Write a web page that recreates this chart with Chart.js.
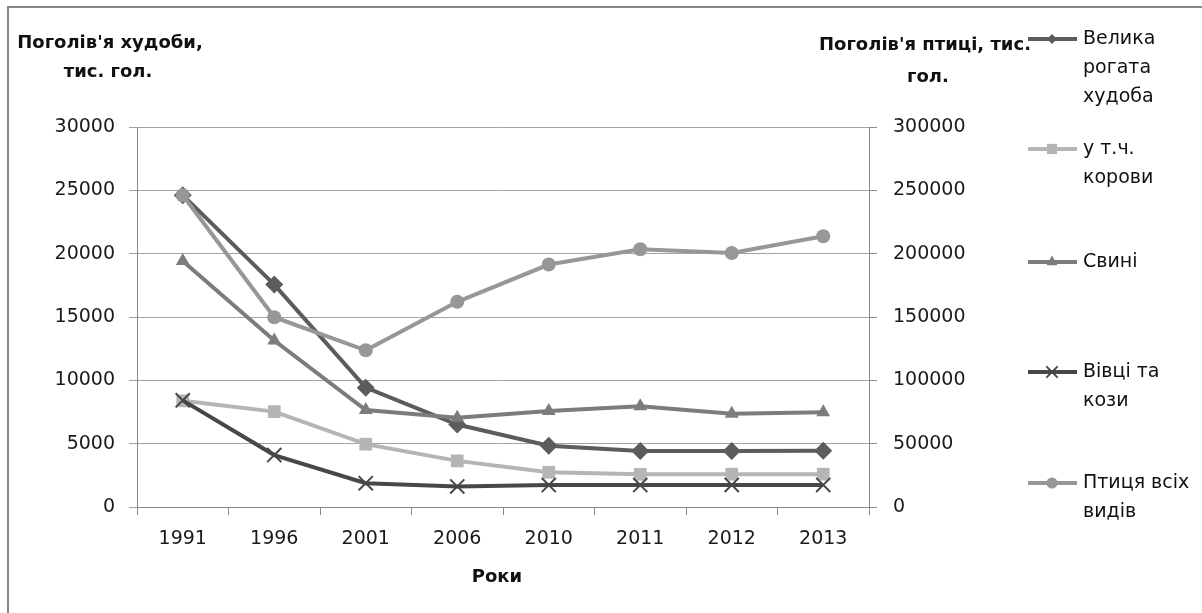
<!DOCTYPE html>
<html>
<head>
<meta charset="utf-8">
<script src="https://cdn.jsdelivr.net/npm/chart.js@4.4.0/dist/chart.umd.min.js"></script>
<style>
html,body{margin:0;padding:0;background:#fff;}
#wrap{width:1202px;height:613px;position:relative;}
</style>
</head>
<body>
<div id="wrap"><canvas id="c" width="1202" height="613"></canvas></div>
<script>
const years = ['1991','1996','2001','2006','2010','2011','2012','2013'];
const cattle = [24620, 17560, 9420, 6510, 4830, 4430, 4430, 4440];
const cows = [8380, 7530, 4960, 3640, 2740, 2580, 2590, 2590];
const pigs = [19430, 13140, 7650, 7050, 7580, 7960, 7370, 7480];
const sheep = [8420, 4100, 1880, 1620, 1730, 1730, 1740, 1740];
const poultry = [246100, 149800, 123700, 162000, 191400, 203500, 200500, 213800];
const leftTicks = [0, 5000, 10000, 15000, 20000, 25000, 30000];
const rightTicks = [0, 50000, 100000, 150000, 200000, 250000, 300000];
const seriesNames = [['Велика','рогата','худоба'], ['у т.ч.','корови'], ['Свині'], ['Вівці та','кози'], ['Птиця всіх','видів']];

const FONT = "'DejaVu Sans', sans-serif";

function marker(ctx, style, x, y, r, color) {
  ctx.save();
  ctx.fillStyle = color; ctx.strokeStyle = color; ctx.lineWidth = 2;
  ctx.beginPath();
  const s = Math.SQRT1_2 * r;
  if (style === 'rectRot') {
    ctx.moveTo(x - s, y); ctx.lineTo(x, y + s); ctx.lineTo(x + s, y); ctx.lineTo(x, y - s); ctx.closePath(); ctx.fill();
  } else if (style === 'rect') {
    ctx.rect(x - s, y - s, 2 * s, 2 * s); ctx.fill();
  } else if (style === 'triangle') {
    const w = r * Math.sqrt(3) / 2;
    ctx.moveTo(x, y - r); ctx.lineTo(x + w, y + r / 2); ctx.lineTo(x - w, y + r / 2); ctx.closePath(); ctx.fill();
  } else if (style === 'crossRot') {
    ctx.moveTo(x - s, y - s); ctx.lineTo(x + s, y + s); ctx.moveTo(x + s, y - s); ctx.lineTo(x - s, y + s); ctx.stroke();
  } else {
    ctx.arc(x, y, r, 0, Math.PI * 2); ctx.fill();
  }
  ctx.restore();
}

const deco = {
  id: 'deco',
  beforeDraw(chart) {
    const ctx = chart.ctx;
    ctx.save();
    ctx.fillStyle = '#fff';
    ctx.fillRect(0, 0, chart.width, chart.height);
    ctx.strokeStyle = '#878787';
    ctx.lineWidth = 2;
    ctx.strokeRect(8, 7, 1210, 620);
    ctx.restore();
  },
  afterDraw(chart) {
    const ctx = chart.ctx;
    ctx.save();
    ctx.fillStyle = '#111';
    ctx.textBaseline = 'middle';
    ctx.textAlign = 'center';
    ctx.font = "bold 18px " + FONT;
    ctx.fillText("Поголів'я худоби,", 110, 43);
    ctx.fillText("тис. гол.", 108, 72);
    ctx.fillText("Поголів'я птиці, тис.", 925, 45);
    ctx.fillText("гол.", 928, 77);
    ctx.fillText("Роки", 497, 577);
    // legend
    const tops = [39, 149, 262, 372, 483];
    ctx.font = "19px " + FONT;
    ctx.textAlign = 'left';
    chart.data.datasets.forEach((ds, i) => {
      const y = tops[i];
      ctx.strokeStyle = ds.borderColor;
      ctx.lineWidth = 4;
      ctx.beginPath(); ctx.moveTo(1028, y); ctx.lineTo(1077, y); ctx.stroke();
      marker(ctx, ds.pointStyle, 1052, y, ds.pointRadius * 0.8, ds.borderColor);
      ctx.fillStyle = '#111';
      seriesNames[i].forEach((t, j) => ctx.fillText(t, 1083, y + j * 29));
    });
    ctx.restore();
  }
};

const common = { borderWidth: 4, pointBorderWidth: 0, fill: false, tension: 0 };

new Chart(document.getElementById('c'), {
  type: 'line',
  data: {
    labels: years,
    datasets: [
      { ...common, label: seriesNames[0].join(' '), data: cattle, yAxisID: 'y', borderColor: '#5c5c5c', backgroundColor: '#5c5c5c', pointStyle: 'rectRot', pointRadius: 9, order: 5 },
      { ...common, label: seriesNames[1].join(' '), data: cows, yAxisID: 'y', borderColor: '#b5b5b5', backgroundColor: '#b5b5b5', pointStyle: 'rect', pointRadius: 9, order: 4 },
      { ...common, label: seriesNames[2].join(' '), data: pigs, yAxisID: 'y', borderColor: '#7c7c7c', backgroundColor: '#7c7c7c', pointStyle: 'triangle', pointRadius: 8, order: 3 },
      { ...common, label: seriesNames[3].join(' '), data: sheep, yAxisID: 'y', borderColor: '#474747', backgroundColor: '#474747', pointStyle: 'crossRot', pointRadius: 10, pointBorderWidth: 2, order: 2 },
      { ...common, label: seriesNames[4].join(' '), data: poultry, yAxisID: 'y1', borderColor: '#979797', backgroundColor: '#979797', pointStyle: 'circle', pointRadius: 7, order: 1 }
    ]
  },
  options: {
    responsive: false,
    animation: false,
    devicePixelRatio: 1,
    layout: { padding: { top: 127, left: 0, right: 0, bottom: 0 } },
    plugins: { legend: { display: false }, tooltip: { enabled: false }, title: { display: false } },
    scales: {
      x: {
        type: 'category',
        offset: true,
        grid: { offset: true, drawOnChartArea: false, drawTicks: true, tickLength: 8, color: '#8a8a8a' },
        border: { color: '#8a8a8a', width: 1 },
        ticks: { color: '#1a1a1a', font: { family: FONT, size: 19 }, padding: 13, maxRotation: 0, autoSkip: false },
        afterFit(s) { s.height = 106; }
      },
      y: {
        position: 'left',
        min: 0, max: 30000,
        afterBuildTicks(s) { s.ticks = leftTicks.map(v => ({ value: v })); },
        grid: { color: '#a3a3a3', tickLength: 8, drawTicks: true },
        border: { color: '#8a8a8a', width: 1 },
        ticks: { color: '#1a1a1a', font: { family: FONT, size: 19 }, padding: 14, callback: v => String(v) },
        afterFit(s) { s.width = 137; }
      },
      y1: {
        position: 'right',
        min: 0, max: 300000,
        afterBuildTicks(s) { s.ticks = rightTicks.map(v => ({ value: v })); },
        grid: { drawOnChartArea: false, tickLength: 8, drawTicks: true, color: '#8a8a8a' },
        border: { color: '#8a8a8a', width: 1 },
        ticks: { color: '#1a1a1a', font: { family: FONT, size: 19 }, padding: 16, callback: v => String(v) },
        afterFit(s) { s.width = 333; }
      }
    }
  },
  plugins: [deco]
});
</script>
</body>
</html>
